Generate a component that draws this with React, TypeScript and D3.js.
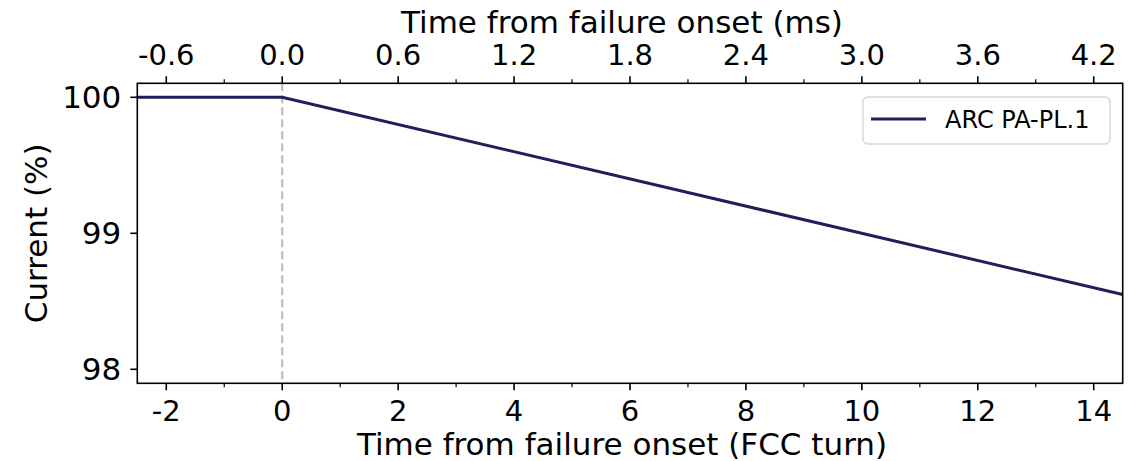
import * as d3 from 'd3';

// series: ARC PA-PL.1 current vs FCC turns after failure onset
const turns = [-2.5, 0, 14.5];
const current = [100, 100, 98.55];
const seriesName = 'ARC PA-PL.1';

const bottomTicks = [-2, 0, 2, 4, 6, 8, 10, 12, 14];
const bottomMinor = [-1, 1, 3, 5, 7, 9, 11, 13];
const topTicks = [-0.6, 0.0, 0.6, 1.2, 1.8, 2.4, 3.0, 3.6, 4.2];
const topMinor = [-0.3, 0.3, 0.9, 1.5, 2.1, 2.7, 3.3, 3.9];
const yTicks = [98, 99, 100];
const msPerTurn = 0.3;

const W = 1132;
const H = 461;
const margin = { top: 83.3, right: 9.3, bottom: 77.7, left: 137.3 };
const FONT = 'DejaVu Sans, sans-serif';
const LINE = '#1f1f5b';

export default function App() {
  const x0 = margin.left;
  const x1 = W - margin.right;
  const y0 = margin.top;
  const y1 = H - margin.bottom;

  const x = d3.scaleLinear().domain([-2.5, 14.5]).range([x0, x1]);
  const xTop = d3.scaleLinear().domain([-2.5 * msPerTurn, 14.5 * msPerTurn]).range([x0, x1]);
  const y = d3.scaleLinear().domain([97.897, 100.103]).range([y1, y0]);

  const pts = turns.map((t, i) => [t, current[i]] as [number, number]);
  const line = d3.line<[number, number]>().x(d => x(d[0])).y(d => y(d[1]));

  const tickW = 1.6;
  const major = 7;
  const minor = 4;
  const labelX = (x0 + x1) / 2 - 8;

  return (
    <div style={{ position: 'absolute', left: 0, top: 0 }}>
      <svg width={W} height={H} style={{ display: 'block', background: '#fff' }} fontFamily={FONT}>
        <defs>
          <clipPath id="plot">
            <rect x={x0} y={y0} width={x1 - x0} height={y1 - y0} />
          </clipPath>
        </defs>

        {/* vertical dashed marker at onset */}
        <line x1={x(0)} x2={x(0)} y1={y0} y2={y1} stroke="#bdbdbd" strokeWidth={2.2} strokeDasharray="8,4" />

        <path d={line(pts)!} fill="none" stroke={LINE} strokeWidth={3} clipPath="url(#plot)" />

        {/* spines */}
        <rect x={x0} y={y0} width={x1 - x0} height={y1 - y0} fill="none" stroke="#000" strokeWidth={1.6} />

        {/* bottom axis */}
        {bottomTicks.map(t => (
          <g key={'b' + t}>
            <line x1={x(t)} x2={x(t)} y1={y1} y2={y1 + major} stroke="#000" strokeWidth={tickW} />
            <text x={x(t)} y={420.5} fontSize={29} textAnchor="middle">{t < 0 ? '-' + Math.abs(t) : t}</text>
          </g>
        ))}
        {bottomMinor.map(t => (
          <line key={'bm' + t} x1={x(t)} x2={x(t)} y1={y1} y2={y1 + minor} stroke="#000" strokeWidth={1.2} />
        ))}
        <text x={labelX} y={455} fontSize={31} textAnchor="middle">Time from failure onset (FCC turn)</text>

        {/* top axis */}
        {topTicks.map(t => (
          <g key={'t' + t}>
            <line x1={xTop(t)} x2={xTop(t)} y1={y0} y2={y0 - major} stroke="#000" strokeWidth={tickW} />
            <text x={xTop(t)} y={65} fontSize={29} textAnchor="middle">{t < 0 ? '-' + Math.abs(t).toFixed(1) : t.toFixed(1)}</text>
          </g>
        ))}
        {topMinor.map(t => (
          <line key={'tm' + t} x1={xTop(t)} x2={xTop(t)} y1={y0} y2={y0 - minor} stroke="#000" strokeWidth={1.2} />
        ))}
        <text x={labelX} y={33} fontSize={31} textAnchor="middle">Time from failure onset (ms)</text>

        {/* left axis */}
        {yTicks.map(t => (
          <g key={'y' + t}>
            <line x1={x0} x2={x0 - major} y1={y(t)} y2={y(t)} stroke="#000" strokeWidth={tickW} />
            <text x={x0 - 16} y={y(t)} dy="0.36em" fontSize={31} textAnchor="end">{t}</text>
          </g>
        ))}
        <text transform={`translate(47,${(y0 + y1) / 2}) rotate(-90)`} fontSize={31} textAnchor="middle">Current (%)</text>

        {/* legend */}
        <rect x={863} y={97} width={247} height={47} rx={5} fill="#fff" fillOpacity={0.8} stroke="#d6d6d6" strokeWidth={1.4} />
        <line x1={871} x2={926} y1={119} y2={119} stroke={LINE} strokeWidth={3} />
        <text x={945} y={128} fontSize={24}>{seriesName}</text>
      </svg>
    </div>
  );
}
